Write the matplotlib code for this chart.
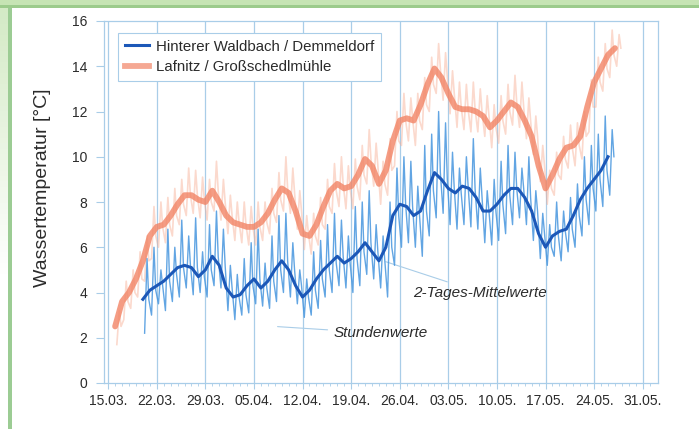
"""
Wassertemperatur Hinterer Waldbach / Lafnitz, Frühjahr
Stundenwerte (Tagesgang) und 2-Tages-Mittelwerte.
"""

import numpy as np
import matplotlib.pyplot as plt
from matplotlib.patches import Rectangle
from matplotlib.lines import Line2D
from matplotlib.colors import LinearSegmentedColormap

# Tage ab 15.03.
tick_days = [0, 7, 14, 21, 28, 35, 42, 49, 56, 63, 70, 77]
tick_labels = ['15.03.', '22.03.', '29.03.', '05.04.', '12.04.', '19.04.',
               '26.04.', '03.05.', '10.05.', '17.05.', '24.05.', '31.05.']

# Hinterer Waldbach / Demmeldorf
blue_days = list(range(5, 73))
blue_mean = [3.7, 4.1, 4.3, 4.5, 4.8, 5.1, 5.2, 5.1, 4.7, 5.0,
             5.6, 5.2, 4.2, 3.8, 3.9, 4.3, 4.6, 4.2, 4.5, 5.0,
             5.4, 5.0, 4.3, 3.8, 4.1, 4.6, 5.0, 5.3, 5.6, 5.3,
             5.5, 5.8, 6.2, 5.8, 5.4, 6.0, 7.4, 7.9, 7.8, 7.4,
             7.6, 8.5, 9.3, 9.0, 8.6, 8.4, 8.7, 8.6, 8.2, 7.6,
             7.6, 7.9, 8.3, 8.6, 8.6, 8.2, 7.6, 6.6, 6.0, 6.5,
             6.7, 6.8, 7.4, 8.1, 8.6, 9.0, 9.4, 10.0]
blue_max = [5.5, 6.0, 5.0, 6.8, 6.0, 7.2, 6.5, 7.3, 5.8, 7.0,
            7.6, 6.8, 5.2, 4.8, 5.5, 6.2, 6.8, 5.3, 6.5, 7.4,
            7.5, 6.2, 5.0, 4.6, 5.8, 6.3, 7.0, 7.5, 7.2, 6.5,
            7.8, 8.0, 8.5, 7.0, 6.5, 8.0, 9.5, 10.0, 9.8, 8.7,
            10.5, 11.0, 12.0, 11.5, 10.2, 9.5, 10.0, 10.8, 9.5, 8.5,
            9.0, 9.8, 10.5, 10.2, 9.5, 10.0, 8.5, 7.5, 7.0, 8.0,
            7.6, 8.2, 8.8, 10.0, 10.5, 11.0, 11.8, 11.2]
blue_min = [2.2, 3.0, 3.5, 3.2, 3.6, 3.8, 4.2, 3.9, 4.0, 3.8,
            4.3, 4.2, 3.2, 2.8, 3.0, 3.1, 3.5, 3.4, 3.3, 3.6,
            4.0, 3.8, 3.5, 2.9, 3.0, 3.3, 3.8, 4.0, 4.3, 4.2,
            4.0, 4.3, 4.8, 4.6, 4.2, 3.8, 5.2, 6.0, 6.2, 6.0,
            5.6, 6.5, 7.3, 7.5, 7.0, 6.8, 7.0, 6.9, 6.8, 6.2,
            6.1, 6.3, 6.6, 7.0, 7.3, 7.0, 6.3, 5.5, 5.2, 5.6,
            5.4, 5.8, 6.0, 6.5, 7.0, 7.6, 7.8, 8.3]

# Lafnitz / Großschedlmühle
orange_days = list(range(1, 74))
orange_mean = [2.5, 3.6, 4.0, 4.6, 5.4, 6.5, 6.9, 7.0, 7.4, 7.9,
               8.3, 8.3, 8.1, 8.0, 8.5, 8.0, 7.4, 7.1, 7.0, 6.9,
               6.9, 7.1, 7.5, 8.1, 8.6, 8.4, 7.6, 6.6, 6.5, 7.0,
               7.8, 8.5, 8.8, 8.6, 8.7, 9.2, 9.9, 9.6, 8.8, 9.4,
               10.7, 11.6, 11.7, 11.6, 12.3, 13.2, 13.9, 13.5, 12.8, 12.2,
               12.1, 12.1, 12.0, 11.8, 11.3, 11.6, 12.0, 12.4, 12.2, 11.6,
               10.9, 9.6, 8.6, 9.2, 9.9, 10.4, 10.5, 10.9, 12.2, 13.3,
               13.9, 14.5, 14.8]
orange_max = [3.2, 4.5, 5.0, 5.8, 6.5, 7.8, 8.0, 8.2, 8.6, 9.0,
              9.5, 9.4, 9.1, 9.0, 9.8, 9.0, 8.3, 8.0, 8.0, 7.8,
              8.0, 8.0, 8.6, 9.3, 10.0, 9.5, 8.5, 7.4, 7.5, 8.2,
              9.0, 9.7, 10.0, 9.6, 9.9, 10.5, 11.2, 10.6, 9.8, 10.8,
              12.0, 12.8, 12.6, 12.8, 13.5, 14.4, 15.0, 14.6, 13.8, 13.3,
              13.2, 13.3, 13.0, 12.7, 12.3, 12.7, 13.2, 13.6, 13.3, 12.6,
              11.8, 10.5, 9.4, 10.2, 10.9, 11.4, 11.5, 12.0, 13.4, 14.4,
              15.0, 15.6, 15.4]
orange_min = [1.7, 2.8, 3.3, 3.8, 4.5, 5.5, 6.0, 6.2, 6.5, 7.0,
              7.4, 7.5, 7.3, 7.2, 7.6, 7.2, 6.6, 6.3, 6.2, 6.1,
              6.1, 6.3, 6.6, 7.1, 7.6, 7.5, 6.8, 5.9, 5.7, 6.1,
              6.8, 7.5, 7.8, 7.7, 7.7, 8.1, 8.8, 8.7, 7.9, 8.3,
              9.6, 10.5, 10.7, 10.5, 11.2, 12.0, 12.8, 12.5, 11.9, 11.3,
              11.2, 11.1, 11.1, 10.9, 10.4, 10.6, 11.0, 11.4, 11.3, 10.8,
              10.1, 8.9, 7.9, 8.3, 9.0, 9.5, 9.6, 9.9, 11.1, 12.2,
              12.9, 13.5, 14.0]

BLUE = '#1c58b8'
BLUE_H = '#4796de'
ORANGE = '#f28465'
ORANGE_H = '#f7ab90'
GRID = '#a9cde8'
TXT = '#2b2b2b'

plt.rcParams['font.family'] = ['Liberation Sans', 'DejaVu Sans']


def daily_cycle(days, lo, hi, mid):
    # Tagesgang: Minimum morgens, kurze Spitze nachmittags, abends wieder Mittel
    x, y = [], []
    for d, a, b, m in zip(days, lo, hi, mid):
        x += [d + 0.25, d + 0.6, d + 0.85]
        y += [a, b, m]
    return x, y


fig = plt.figure(figsize=(6.99, 4.29), dpi=100)

# gruener Rahmen
fig.patches.append(Rectangle((0, 1 - 8 / 429), 1, 8 / 429, transform=fig.transFigure,
                             facecolor='#c6e4b4', edgecolor='none', zorder=0))
fig.patches.append(Rectangle((0, 1 - 8 / 429), 1, 3.5 / 429, transform=fig.transFigure,
                             facecolor='#9ccb8c', edgecolor='none', zorder=0))
fig.patches.append(Rectangle((8 / 699, 0), 4 / 699, 1 - 8 / 429, transform=fig.transFigure,
                             facecolor='#9ccc94', edgecolor='none', zorder=0))
fade = LinearSegmentedColormap.from_list('fade', ['#ffffff', '#d4eac6'])
bg = fig.add_axes([0, 0.35, 8 / 699, 0.65 - 8 / 429])
bg.imshow(np.linspace(1, 0, 50).reshape(-1, 1), cmap=fade, aspect='auto')
bg.axis('off')

ax = fig.add_axes([104 / 699, 46 / 429, 554 / 699, 362 / 429])

xo, yo = daily_cycle(orange_days, orange_min, orange_max, orange_mean)
ax.plot(xo, yo, color=ORANGE_H, lw=1.2, alpha=0.45, zorder=2)
ax.plot(orange_days, orange_mean, color=ORANGE, lw=4.2, alpha=0.8,
        solid_capstyle='round', zorder=3)

xb, yb = daily_cycle(blue_days, blue_min, blue_max, blue_mean)
ax.plot(xb, yb, color=BLUE_H, lw=1.0, alpha=0.85, zorder=4)
ax.plot(blue_days, blue_mean, color=BLUE, lw=2.2, zorder=5)

ax.set_xlim(-0.6, 79.2)
ax.set_ylim(0, 16)
ax.set_xticks(tick_days)
ax.set_xticklabels(tick_labels)
ax.set_xticks(range(0, 79), minor=True)
ax.set_yticks(range(0, 17, 2))
ax.grid(axis='x', color=GRID, lw=0.9)
for s in ax.spines.values():
    s.set_color(GRID)
    s.set_linewidth(0.9)
ax.tick_params(axis='both', which='both', color=GRID, labelcolor=TXT)
ax.tick_params(axis='x', which='major', length=4, labelsize=10, pad=4)
ax.tick_params(axis='x', which='minor', length=2)
ax.tick_params(axis='y', length=6, labelsize=10, pad=6)
ax.set_ylabel('Wassertemperatur [°C]', fontsize=14, color=TXT)
ax.yaxis.set_label_coords(-0.095, 0.54)

handles = [Line2D([], [], color=BLUE, lw=2.2),
           Line2D([], [], color=ORANGE, lw=4.2, alpha=0.7)]
leg = ax.legend(handles, ['Hinterer Waldbach / Demmeldorf', 'Lafnitz / Großschedlmühle'],
                loc='upper left', bbox_to_anchor=(0.025, 0.967), borderaxespad=0,
                fontsize=10.8, handlelength=1.6, handletextpad=0.5, labelspacing=0.45,
                borderpad=0.45, fancybox=False, framealpha=1, edgecolor=GRID,
                labelcolor=TXT)
leg.get_frame().set_linewidth(0.8)

ax.annotate('2-Tages-Mittelwerte', xy=(39.6, 5.4), xytext=(43.9, 4.0),
            fontsize=11, style='italic', color=TXT, va='center',
            arrowprops=dict(arrowstyle='-', color=GRID, lw=0.8))
ax.annotate('Stundenwerte', xy=(24.0, 2.5), xytext=(32.4, 2.2),
            fontsize=11, style='italic', color=TXT, va='center',
            arrowprops=dict(arrowstyle='-', color=GRID, lw=0.8))

fig.savefig('out.png', dpi=100)
